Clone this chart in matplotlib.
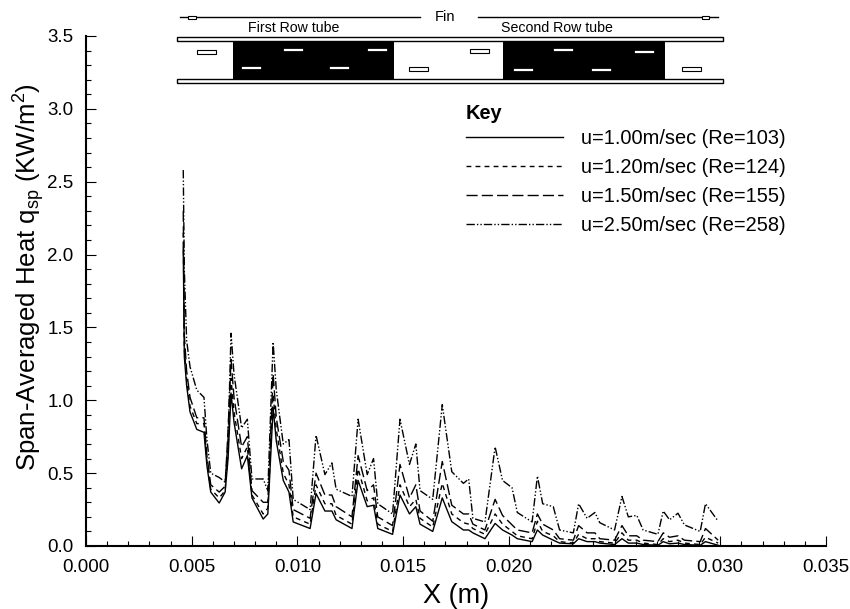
import numpy as np
import matplotlib
matplotlib.use("Agg")
import matplotlib.pyplot as plt
from matplotlib.patches import Rectangle

plt.rcParams['font.family'] = ['Liberation Sans', 'DejaVu Sans']
plt.rcParams['mathtext.fontset'] = 'custom'
plt.rcParams['mathtext.rm'] = 'Liberation Sans'
plt.rcParams['mathtext.default'] = 'regular'

# x position in mm
x_mm = [4.60, 4.65, 4.76, 4.92, 5.24, 5.58, 5.72, 5.90, 6.30, 6.58, 6.72, 6.86,
        7.00, 7.36, 7.63, 7.85, 8.38, 8.60, 8.85,
        9.00, 9.33, 9.60, 9.80, 10.60, 10.88,
        11.30, 11.63, 11.83, 12.58, 12.87,
        13.30, 13.60, 13.80, 14.50, 14.85,
        15.30, 15.60, 15.80, 16.40, 16.85,
        17.30, 17.85, 18.10, 18.30, 18.87, 19.35,
        19.70, 20.15, 20.40, 21.10, 21.35,
        21.60, 22.10, 22.40, 23.05, 23.30,
        23.70, 24.07, 24.30, 25.00, 25.35,
        25.65, 26.05, 26.35, 27.05, 27.30,
        27.60, 28.00, 28.30, 29.05, 29.30, 29.90]

u100 = [2.05, 1.30, 1.10, 0.92, 0.80, 0.78, 0.55, 0.37, 0.295, 0.37, 0.60, 1.05,
        0.85, 0.53, 0.62, 0.33, 0.185, 0.22, 0.95,
        0.72, 0.45, 0.37, 0.165, 0.12, 0.36,
        0.24, 0.24, 0.18, 0.12, 0.45,
        0.27, 0.28, 0.12, 0.08, 0.35,
        0.22, 0.27, 0.15, 0.10, 0.33,
        0.167, 0.11, 0.11, 0.09, 0.05, 0.155,
        0.11, 0.075, 0.05, 0.03, 0.11,
        0.075, 0.04, 0.02, 0.015, 0.05,
        0.03, 0.03, 0.02, 0.01, 0.05,
        0.02, 0.02, 0.01, 0.005, 0.03,
        0.015, 0.02, 0.01, 0.005, 0.03, 0.005]
u120 = [2.15, 1.35, 1.14, 0.96, 0.84, 0.84, 0.58, 0.39, 0.33, 0.38, 0.68, 1.15,
        0.92, 0.60, 0.68, 0.35, 0.22, 0.26, 1.04,
        0.80, 0.50, 0.42, 0.20, 0.15, 0.42,
        0.29, 0.29, 0.21, 0.15, 0.53,
        0.31, 0.33, 0.15, 0.10, 0.42,
        0.27, 0.32, 0.19, 0.13, 0.43,
        0.22, 0.16, 0.15, 0.12, 0.08, 0.22,
        0.15, 0.10, 0.07, 0.05, 0.17,
        0.10, 0.07, 0.03, 0.02, 0.08,
        0.05, 0.05, 0.03, 0.02, 0.09,
        0.04, 0.04, 0.02, 0.01, 0.05,
        0.03, 0.04, 0.02, 0.01, 0.06, 0.02]
u150 = [2.30, 1.45, 1.20, 1.02, 0.88, 0.88, 0.62, 0.42, 0.37, 0.41, 0.80, 1.28,
        1.02, 0.68, 0.75, 0.38, 0.30, 0.30, 1.18,
        0.88, 0.58, 0.52, 0.25, 0.19, 0.50,
        0.35, 0.35, 0.27, 0.20, 0.62,
        0.38, 0.42, 0.20, 0.14, 0.56,
        0.33, 0.42, 0.24, 0.17, 0.58,
        0.28, 0.22, 0.22, 0.15, 0.11, 0.32,
        0.21, 0.145, 0.11, 0.09, 0.22,
        0.15, 0.11, 0.05, 0.04, 0.14,
        0.09, 0.09, 0.05, 0.04, 0.14,
        0.07, 0.07, 0.04, 0.03, 0.09,
        0.06, 0.07, 0.04, 0.03, 0.12, 0.04]
u250 = [2.58, 1.90, 1.41, 1.23, 1.07, 1.02, 0.73, 0.50, 0.47, 0.44, 0.73, 1.46,
        1.18, 0.81, 0.87, 0.46, 0.46, 0.38, 1.40,
        1.07, 0.70, 0.73, 0.32, 0.25, 0.76,
        0.49, 0.57, 0.39, 0.34, 0.87,
        0.49, 0.60, 0.29, 0.22, 0.87,
        0.56, 0.70, 0.38, 0.32, 0.97,
        0.51, 0.43, 0.46, 0.19, 0.165, 0.68,
        0.45, 0.40, 0.23, 0.165, 0.48,
        0.29, 0.27, 0.11, 0.09, 0.29,
        0.19, 0.23, 0.16, 0.11, 0.34,
        0.20, 0.21, 0.11, 0.08, 0.24,
        0.18, 0.225, 0.145, 0.10, 0.29, 0.17]

labels = ["u=1.00m/sec (Re=103)", "u=1.20m/sec (Re=124)",
          "u=1.50m/sec (Re=155)", "u=2.50m/sec (Re=258)"]
styles = ["-", (0, (3.5, 3)), (0, (8, 3)), (0, (6, 1.5, 1, 1.5, 1, 1.5))]

x_ticks = [0.000, 0.005, 0.010, 0.015, 0.020, 0.025, 0.030, 0.035]
y_ticks = [0.0, 0.5, 1.0, 1.5, 2.0, 2.5, 3.0, 3.5]

W, H = 850, 609
fig = plt.figure(figsize=(W / 100, H / 100), dpi=100)
ax = fig.add_axes([86 / W, (H - 546) / H, 740 / W, 510 / H])

x = np.array(x_mm) * 1e-3
for y, lab, st in zip([u100, u120, u150, u250], labels, styles):
    ax.plot(x, y, color="black", lw=1.0, ls=st, label=lab)

ax.set_xlim(0, 0.035)
ax.set_ylim(0, 3.5)
ax.set_xticks(x_ticks)
ax.set_xticklabels(["%.3f" % v for v in x_ticks])
ax.set_yticks(y_ticks)
ax.set_yticklabels(["%.1f" % v for v in y_ticks])
ax.minorticks_on()
ax.xaxis.set_minor_locator(plt.MultipleLocator(0.001))
ax.yaxis.set_minor_locator(plt.MultipleLocator(0.1))
ax.tick_params(which="major", direction="in", length=7, width=0.8, labelsize=13.5, pad=9)
ax.tick_params(which="minor", direction="in", length=3.5, width=0.8)
for s in ["top", "right"]:
    ax.spines[s].set_visible(False)
for s in ["left", "bottom"]:
    ax.spines[s].set_linewidth(1.5)

ax.set_xlabel("X (m)", fontsize=19.5, labelpad=5.5)
ax.set_ylabel(r"Span-Averaged Heat q$_{sp}$ (KW/m$^{2}$)", fontsize=18.5,
              y=(546 - 277) / 510, labelpad=0.5)

leg = ax.legend(loc="upper left", bbox_to_anchor=(466 / W, 1 - 104 / H),
                bbox_transform=fig.transFigure, frameon=False, fontsize=14.4,
                title="Key", title_fontproperties={"weight": "bold", "size": 14.4},
                alignment="left", handlelength=4.85, handletextpad=0.9,
                labelspacing=0.5, borderpad=0, borderaxespad=0)
leg._legend_box.sep = 4

# fin and tube sketch above the curves, in picture pixels
sk = fig.add_axes([0, 0, 1, 1], facecolor="none")
sk.set_xlim(0, W)
sk.set_ylim(H, 0)
sk.axis("off")

for x0, x1 in [(180, 420), (478, 718)]:
    sk.plot([x0, x1], [17.3, 17.3], color="black", lw=1.0)
for x0, y0, w, h in [(188, 15.5, 8, 3.5), (702, 15.5, 7, 3.5)]:
    sk.add_patch(Rectangle((x0, y0), w, h, fc="white", ec="black", lw=0.8, zorder=3))
for y0 in [36.7, 78.5]:
    sk.add_patch(Rectangle((177, y0), 546, 4, fc="white", ec="black", lw=1.0))
for x0, x1 in [(233, 394), (503, 665)]:
    sk.add_patch(Rectangle((x0, 40.7), x1 - x0, 37.8, fc="black", ec="none"))
for x0, y0 in [(197, 50), (409, 67), (470, 48.5), (682, 67)]:
    sk.add_patch(Rectangle((x0, y0), 19.5, 4, fc="white", ec="black", lw=0.8))
for x0, y0 in [(243, 68), (285, 50), (331, 68), (369, 50),
               (515, 69.5), (555, 50), (593, 69.5), (636, 52)]:
    sk.plot([x0, x0 + 17.5], [y0, y0], color="white", lw=1.6)

sk.text(294, 28, "First Row tube", fontsize=10.2, ha="center", va="center")
sk.text(557, 28, "Second Row tube", fontsize=10.2, ha="center", va="center")
sk.text(445, 17, "Fin", fontsize=10.5, ha="center", va="center")

plt.savefig("out.png", dpi=100)
